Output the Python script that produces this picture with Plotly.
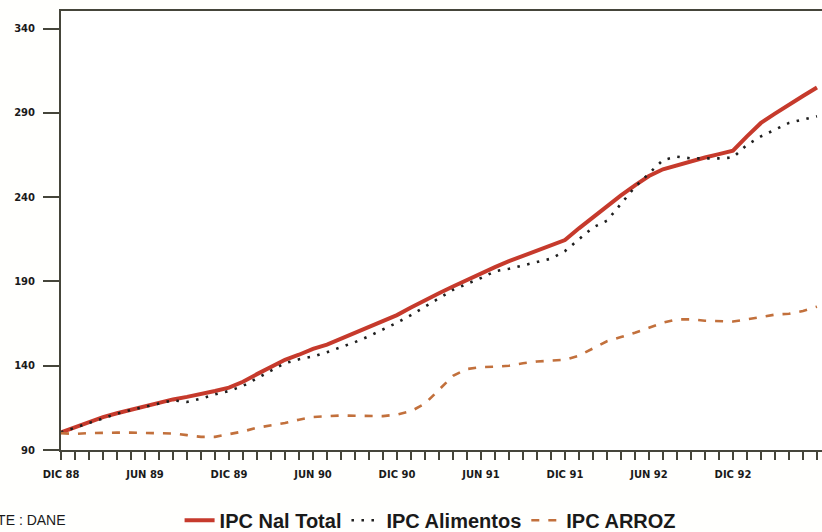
import plotly.graph_objects as go

months = list(range(55))  # 0 = DIC 88, monthly to JUN 93

ipc_total = [100.5, 103.5, 106.5, 109.5, 111.8, 114.0, 116.0, 118.0, 120.0, 121.5,
             123.0, 125.0, 127.0, 130.5, 135.0, 139.0, 143.5, 146.5, 150.0, 152.5,
             156.0, 159.5, 163.0, 166.0, 170.0, 174.5, 179.0, 183.0, 187.0, 191.0,
             194.5, 198.5, 202.0, 205.0, 208.0, 211.0, 214.5, 221.5, 228.0, 235.0,
             241.0, 247.0, 252.5, 256.5, 259.0, 261.5, 263.5, 265.5, 267.5, 276.0,
             284.0, 289.5, 295.0, 300.0, 305.0]

ipc_alimentos = [100.5, 103.3, 106.2, 109.0, 111.5, 113.8, 115.8, 117.8, 119.5, 118.5,
                 120.5, 123.0, 125.0, 128.0, 132.5, 137.0, 141.5, 143.8, 145.5, 148.0,
                 151.0, 154.0, 157.5, 161.5, 165.5, 170.0, 175.0, 180.0, 185.0, 188.5,
                 192.0, 196.0, 197.5, 199.5, 201.5, 203.5, 208.0, 215.0, 222.0, 226.0,
                 236.0, 246.0, 254.0, 262.0, 264.0, 263.0, 263.0, 263.0, 263.5, 271.0,
                 276.0, 280.0, 284.0, 286.0, 288.0]

ipc_arroz = [100.0, 99.5, 100.0, 100.3, 100.3, 100.3, 100.0, 99.9, 99.8, 98.8,
             97.8, 97.8, 99.5, 101.0, 103.2, 104.5, 106.0, 108.0, 109.6, 110.0,
             110.5, 110.3, 110.0, 110.1, 111.0, 113.0, 117.5, 126.0, 134.0, 138.0,
             139.2, 139.4, 140.0, 141.5, 142.5, 143.0, 143.5, 146.0, 150.5, 154.5,
             157.0, 159.5, 162.5, 165.5, 167.5, 167.5, 166.7, 166.3, 166.2, 167.5,
             169.0, 170.3, 170.8, 172.5, 175.0]

x_tickvals = [0, 6, 12, 18, 24, 30, 36, 42, 48]
x_ticktext = ["DIC 88", "JUN 89", "DIC 89", "JUN 90", "DIC 90",
              "JUN 91", "DIC 91", "JUN 92", "DIC 92"]
y_tickvals = [90, 140, 190, 240, 290, 340]

axis_color = "#45453a"
font_family = "Liberation Sans, Arial, sans-serif"
tick_family = "DejaVu Sans, Verdana, sans-serif"

fig = go.Figure()
fig.add_trace(go.Scatter(x=months, y=ipc_total, mode="lines", name="<b>IPC Nal Total</b>",
                         line=dict(color="#c63a2c", width=4)))
fig.add_trace(go.Scatter(x=months, y=ipc_alimentos, mode="lines", name="<b>IPC Alimentos</b>",
                         line=dict(color="#1e1e1e", width=2.6, dash="2.5px,7.5px")))
fig.add_trace(go.Scatter(x=months, y=ipc_arroz, mode="lines", name="<b>IPC ARROZ</b>",
                         line=dict(color="#c2703c", width=2.6, dash="8px,9px")))

fig.update_layout(
    width=822, height=532,
    margin=dict(l=61, r=0, t=11, b=82, autoexpand=False),
    paper_bgcolor="#fffffd", plot_bgcolor="#ffffff",
    font=dict(family=font_family, color="#1a1a1a"),
    showlegend=True,
    legend=dict(orientation="h", x=0.485, xanchor="center", y=-0.16, yanchor="middle",
                font=dict(size=20, family=font_family, color="#1a1a1a"),
                itemwidth=30, tracegroupgap=0, bgcolor="rgba(0,0,0,0)"),
    xaxis=dict(range=[0, 54.36], showgrid=False, zeroline=False, automargin=False,
               showline=True, linecolor=axis_color, linewidth=2, mirror=True,
               tickmode="array", tickvals=x_tickvals,
               ticktext=["<b>" + t + "</b>" for t in x_ticktext],
               ticks="outside", ticklen=8, tickwidth=1.5, tickcolor=axis_color,
               ticklabelstandoff=6,
               tickfont=dict(size=10, family=tick_family, color="#1a1a1a"),
               minor=dict(dtick=1, tick0=0, ticks="outside", ticklen=8,
                          tickwidth=1.5, tickcolor=axis_color, showgrid=False)),
    yaxis=dict(range=[90, 350.4], showgrid=False, zeroline=False, automargin=False,
               showline=True, linecolor=axis_color, linewidth=2,
               tickmode="array", tickvals=y_tickvals,
               ticktext=["<b>" + str(v) + "</b>" for v in y_tickvals],
               ticks="outside", ticklen=16, tickwidth=1.5, tickcolor=axis_color,
               ticklabelstandoff=6,
               tickfont=dict(size=10, family=tick_family, color="#1a1a1a")),
)

fig.add_annotation(text="FUENTE : DANE", xref="paper", yref="paper",
                   x=0.009, y=-0.183, xanchor="right", yanchor="bottom",
                   showarrow=False,
                   font=dict(size=14, family=font_family, color="#1a1a1a"))

fig.write_html("out.html", config={"displayModeBar": False},
               post_script="document.body.style.margin='0';document.body.style.overflow='hidden';")
